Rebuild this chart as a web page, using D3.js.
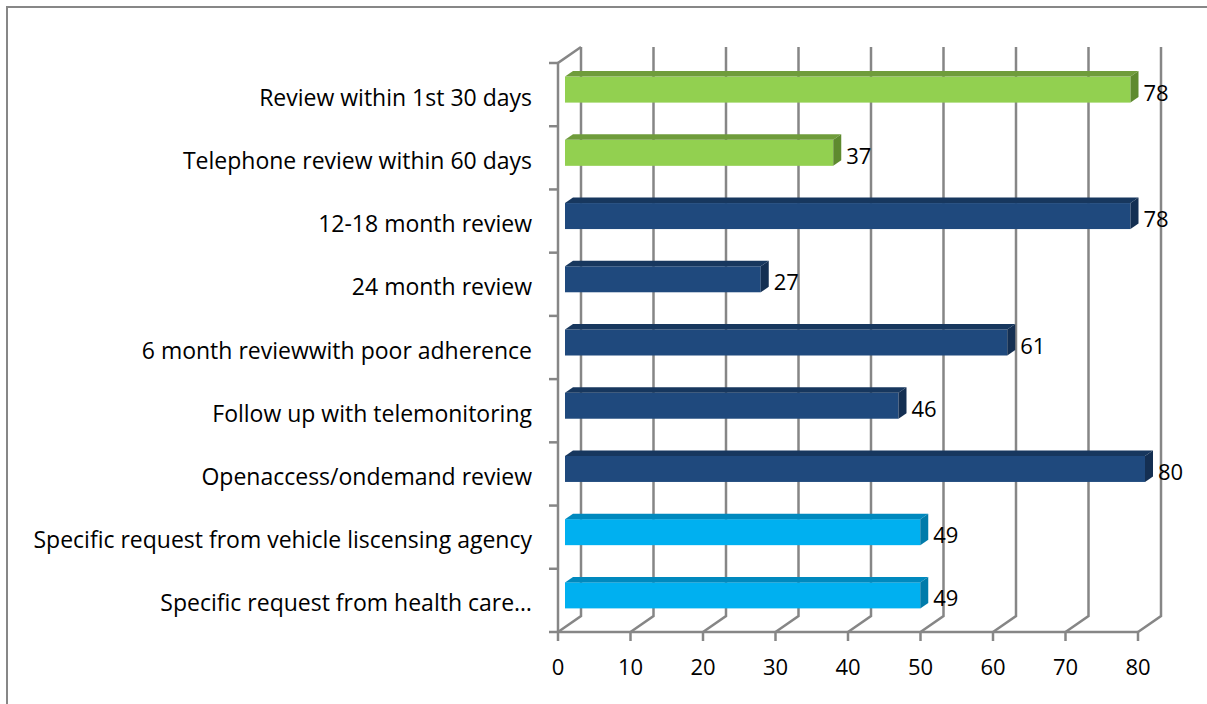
<!DOCTYPE html>
<html>
<head>
<meta charset="utf-8">
<script src="https://cdn.jsdelivr.net/npm/d3@7"></script>
<style>
  body { margin: 0; background: #fff; }
  text { font-family: "Open Sans", "Noto Sans", sans-serif; fill: #000; }
</style>
</head>
<body>
<div id="chart"></div>
<script>
var width = 1207;
var height = 704;

// data
let categories = [
    "Review within 1st 30 days",
    "Telephone review within 60 days",
    "12-18 month review",
    "24 month review",
    "6 month reviewwith poor adherence",
    "Follow up with telemonitoring",
    "Openaccess/ondemand review",
    "Specific request from vehicle liscensing agency",
    "Specific request from health care…"
];
let values = [78, 37, 78, 27, 61, 46, 80, 49, 49];
let groups = ["green", "green", "navy", "navy", "navy", "navy", "navy", "cyan", "cyan"];
let xTicks = [0, 10, 20, 30, 40, 50, 60, 70, 80];

let palette = {
    green: {front: "#92D050", top: "#6F9C3B", side: "#5E8A2F"},
    navy:  {front: "#1F497D", top: "#17375E", side: "#142F52"},
    cyan:  {front: "#00B0F0", top: "#0089BE", side: "#007BAA"}
};

// 3d depth of the walls and of the bars
let depth = {dx: 23, dy: -16};
let barShift = {dx: 7, dy: -5};
let barDepth = {dx: 8, dy: -5.5};
let barH = 26;

let xScale = d3.scaleLinear().domain([0, 80]).range([558, 1138]);
let yScale = d3.scaleBand().domain(categories).range([63, 632]);

var svg = d3.select("#chart")
            .append("svg")
              .attr("width", width).attr("height", height);

// outer frame (only top and left are visible)
svg.append("path")
    .attr("d", `M7,${height} L7,7 L${width},7`)
    .attr("fill", "none").attr("stroke", "#878787").attr("stroke-width", 2);

let gridColor = "#868686";
let grid = svg.append("g").attr("stroke", gridColor).attr("stroke-width", 2.5).attr("fill", "none");
let y0 = yScale.range()[0], y1 = yScale.range()[1];

// back wall gridlines + floor diagonals
grid.selectAll(".vgrid").data(xTicks)
    .join("path").attr("class", "vgrid")
    .attr("d", d => {
        let x = xScale(d);
        return `M${x + depth.dx},${y0 + depth.dy} L${x + depth.dx},${y1 + depth.dy} L${x},${y1}`;
    });

// floor front edge and ticks
grid.append("line").attr("x1", xScale(0)).attr("x2", xScale(80)).attr("y1", y1).attr("y2", y1);
grid.selectAll(".xtick").data(xTicks)
    .join("line").attr("class", "xtick")
    .attr("x1", d => xScale(d)).attr("x2", d => xScale(d))
    .attr("y1", y1).attr("y2", y1 + 9);

// left wall
grid.append("path")
    .attr("d", `M${xScale(0) + depth.dx},${y0 + depth.dy} L${xScale(0)},${y0} L${xScale(0)},${y1}`);
let bounds = categories.map(c => yScale(c)).concat([y1]);
grid.selectAll(".ytick").data(bounds)
    .join("line").attr("class", "ytick")
    .attr("x1", xScale(0) - 9).attr("x2", xScale(0))
    .attr("y1", d => d).attr("y2", d => d);

// bars
let rows = categories.map((c, i) => ({cat: c, value: values[i], group: groups[i]}));
let barG = svg.append("g");
let bar = barG.selectAll(".bar").data(rows).join("g").attr("class", "bar");

function frontBox(d) {
    let x0 = xScale(0) + barShift.dx;
    let x1 = xScale(d.value) + barShift.dx;
    let cy = yScale(d.cat) + yScale.bandwidth() / 2 + barShift.dy;
    return {x0: x0, x1: x1, t: cy - barH / 2, b: cy + barH / 2};
}

bar.append("rect")
    .attr("x", d => frontBox(d).x0)
    .attr("y", d => frontBox(d).t)
    .attr("width", d => frontBox(d).x1 - frontBox(d).x0)
    .attr("height", barH)
    .attr("fill", d => palette[d.group].front);

bar.append("path")
    .attr("d", d => {
        let f = frontBox(d);
        return `M${f.x0},${f.t} L${f.x0 + barDepth.dx},${f.t + barDepth.dy} L${f.x1 + barDepth.dx},${f.t + barDepth.dy} L${f.x1},${f.t} Z`;
    })
    .attr("fill", d => palette[d.group].top);

bar.append("path")
    .attr("d", d => {
        let f = frontBox(d);
        return `M${f.x1},${f.t} L${f.x1 + barDepth.dx},${f.t + barDepth.dy} L${f.x1 + barDepth.dx},${f.b + barDepth.dy} L${f.x1},${f.b} Z`;
    })
    .attr("fill", d => palette[d.group].side);

// value labels
bar.append("text")
    .attr("x", d => frontBox(d).x1 + barDepth.dx + 5)
    .attr("y", d => (frontBox(d).t + frontBox(d).b) / 2 + 2)
    .attr("dominant-baseline", "central")
    .attr("font-size", 22)
    .text(d => d.value);

// category labels
svg.append("g").selectAll(".cat").data(categories)
    .join("text").attr("class", "cat")
    .attr("x", 532)
    .attr("y", d => yScale(d) + yScale.bandwidth() / 2 + 2)
    .attr("text-anchor", "end")
    .attr("dominant-baseline", "central")
    .attr("font-size", 23)
    .text(d => d);

// x tick labels
svg.append("g").selectAll(".xlab").data(xTicks)
    .join("text").attr("class", "xlab")
    .attr("x", d => xScale(d))
    .attr("y", 666)
    .attr("text-anchor", "middle")
    .attr("dominant-baseline", "central")
    .attr("font-size", 22)
    .text(d => d);
</script>
</body>
</html>
